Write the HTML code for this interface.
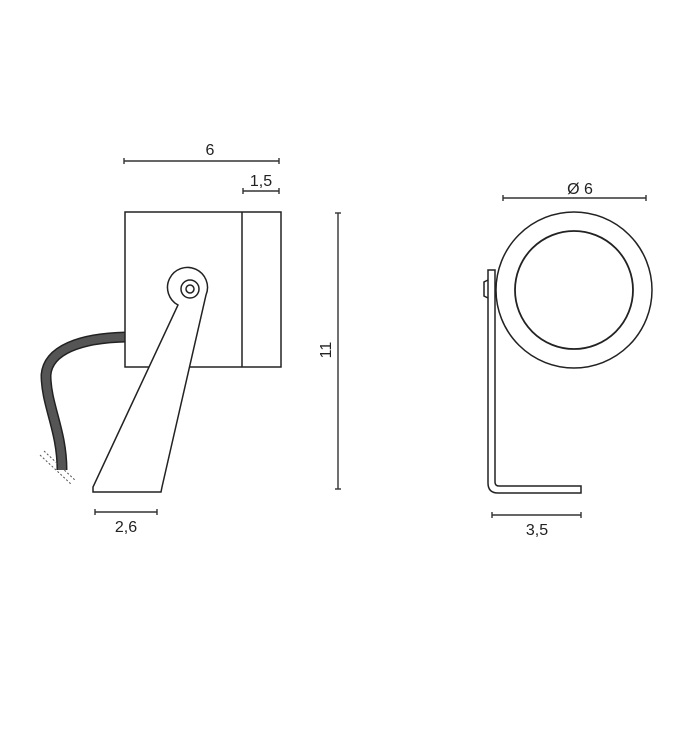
<!DOCTYPE html>
<html><head><meta charset="utf-8"><style>
html,body{margin:0;padding:0;background:#fff}
svg{display:block}
text{font-family:"Liberation Sans",sans-serif;font-size:16px;fill:#222}
</style></head><body>
<svg width="684" height="745" viewBox="0 0 684 745" xmlns="http://www.w3.org/2000/svg">
<g stroke="#333" stroke-width="1.4" fill="none">
<line x1="124" y1="161" x2="279" y2="161"/><line x1="124" y1="158" x2="124" y2="164"/><line x1="279" y1="158" x2="279" y2="164"/>
<line x1="243" y1="191" x2="279" y2="191"/><line x1="243" y1="188" x2="243" y2="194"/><line x1="279" y1="188" x2="279" y2="194"/>
<line x1="338" y1="213" x2="338" y2="489"/><line x1="335" y1="213" x2="341" y2="213"/><line x1="335" y1="489" x2="341" y2="489"/>
<line x1="95" y1="512" x2="157" y2="512"/><line x1="95" y1="509" x2="95" y2="515"/><line x1="157" y1="509" x2="157" y2="515"/>
<line x1="503" y1="198" x2="646" y2="198"/><line x1="503" y1="195" x2="503" y2="201"/><line x1="646" y1="195" x2="646" y2="201"/>
<line x1="492" y1="515" x2="581" y2="515"/><line x1="492" y1="512" x2="492" y2="518"/><line x1="581" y1="512" x2="581" y2="518"/>
</g>
<path d="M126 337 C80 338 48 350 46 375 C46 405 62 430 62 470" stroke="#222" stroke-width="11" fill="none"/>
<path d="M126 337 C80 338 48 350 46 375 C46 405 62 430 62 470" stroke="#555" stroke-width="8" fill="none"/>
<g stroke="#555" stroke-width="1" stroke-dasharray="2,2">
<line x1="40" y1="455" x2="72" y2="485"/><line x1="44" y1="451" x2="76" y2="481"/>
</g>
<g stroke="#222" stroke-width="1.5" fill="#fff">
<rect x="125" y="212" width="156" height="155"/>
<line x1="242" y1="212" x2="242" y2="367"/>
<path d="M178 305 A20 20 0 1 1 206 295 L162 487 L161 492 L93 492 L93 487 Z"/>
<circle cx="190" cy="289" r="9" fill="none"/>
<circle cx="190" cy="289" r="4" fill="none"/>
<circle cx="574" cy="290" r="78"/>
<circle cx="574" cy="290" r="59" stroke-width="1.8"/>
<path d="M488 280 L484 282 L484 296 L488 298" fill="none"/>
<path d="M488 270 L495 270 L495 482 Q495 486 499 486 L581 486 L581 493 L498 493 Q488 493 488 483 Z"/>
</g>
<text x="210" y="155" text-anchor="middle">6</text>
<text x="261" y="186" text-anchor="middle">1,5</text>
<text x="126" y="532" text-anchor="middle">2,6</text>
<text x="580" y="194" text-anchor="middle">Ø 6</text>
<text x="537" y="535" text-anchor="middle">3,5</text>
<text x="326" y="350" text-anchor="middle" transform="rotate(-90 326 350)" dy="5">11</text>
</svg>
</body></html>
